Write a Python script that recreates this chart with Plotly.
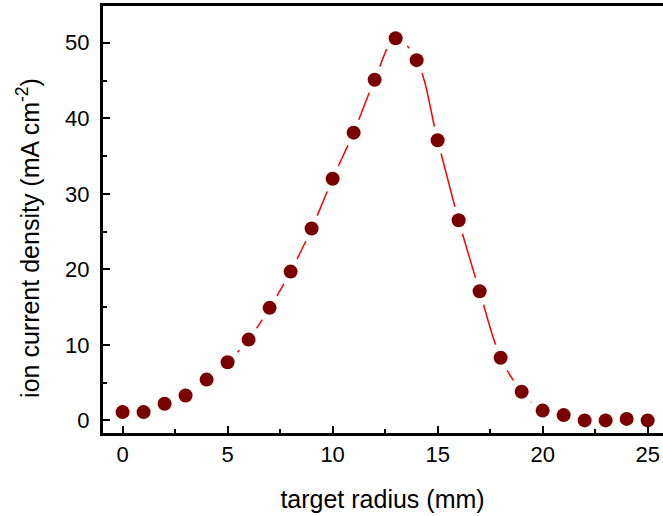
import plotly.graph_objects as go

radius_mm = list(range(0, 26))
ion_current = [1.1, 1.1, 2.2, 3.3, 5.4, 7.7, 10.7, 14.9, 19.7, 25.4, 32.0, 38.1,
               45.1, 50.6, 47.7, 37.1, 26.5, 17.1, 8.3, 3.8, 1.3, 0.7, 0.0, 0.0, 0.2, 0.0]
x_ticks = [0, 5, 10, 15, 20, 25]
y_ticks = [0, 10, 20, 30, 40, 50]

FONT = "Liberation Sans, Arial, sans-serif"
MARKER_COLOR = "#7A0000"

fig = go.Figure()
fig.add_trace(go.Scatter(x=radius_mm, y=ion_current, mode="lines",
                         line=dict(color="#FF0000", width=1.5, shape="spline", smoothing=1.0),
                         hoverinfo="skip", showlegend=False))
# white halo to create gaps in the line around symbols
fig.add_trace(go.Scatter(x=radius_mm, y=ion_current, mode="markers",
                         marker=dict(color="white", size=28, line=dict(width=0)),
                         hoverinfo="skip", showlegend=False))
fig.add_trace(go.Scatter(x=radius_mm, y=ion_current, mode="markers",
                         marker=dict(color=MARKER_COLOR, size=14, line=dict(width=0)),
                         showlegend=False))

axis_common = dict(showline=True, linecolor="black", linewidth=2,
                   ticks="inside", ticklen=8, tickwidth=2, tickcolor="black",
                   showgrid=False, zeroline=False,
                   tickfont=dict(family=FONT, size=22, color="black"))

# frame lines (left, bottom, top)
frame = dict(type="line", xref="paper", yref="paper", layer="above",
             line=dict(color="black", width=2))
shapes = [
    dict(frame, x0=0, x1=0, y0=0, y1=1),
    dict(frame, x0=0, x1=1, y0=0, y1=0),
    dict(frame, x0=0, x1=1, y0=1, y1=1),
]

fig.update_layout(
    width=663, height=516,
    margin=dict(l=102, r=0, t=5, b=82),
    paper_bgcolor="white", plot_bgcolor="white",
    font=dict(family=FONT, color="black"),
    shapes=shapes,
    xaxis=dict(**axis_common, range=[-0.98, 25.73], tickvals=x_ticks, mirror=True,
               minor=dict(dtick=2.5, tick0=0, ticks="inside", ticklen=5, tickwidth=2, tickcolor="black"),
               title=dict(text="target radius (mm)", font=dict(family=FONT, size=25), standoff=24)),
    yaxis=dict(**axis_common, range=[-1.8, 55], tickvals=y_ticks,
               minor=dict(dtick=5, tick0=0, ticks="inside", ticklen=5, tickwidth=2, tickcolor="black"),
               ticklabelstandoff=6),
    annotations=[dict(text="ion current density (mA cm<sup>-2</sup>)", textangle=-90,
                      xref="paper", yref="paper", x=-0.132, y=0.457,
                      xanchor="center", yanchor="middle", showarrow=False,
                      font=dict(family=FONT, size=25, color="black"))],
)

fig.write_html("out.html")
